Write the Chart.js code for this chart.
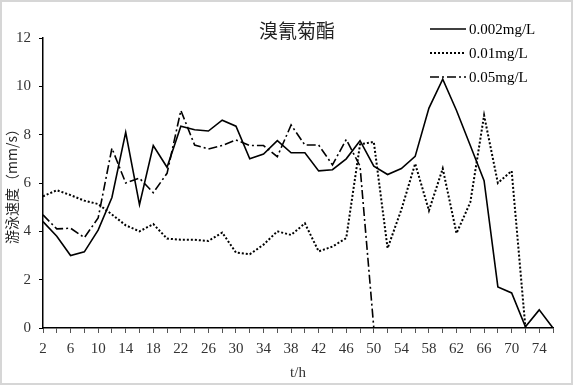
<!DOCTYPE html>
<html>
<head>
<meta charset="utf-8">
<script src="https://cdn.jsdelivr.net/npm/chart.js@4/dist/chart.umd.min.js"></script>
<style>
  html, body { margin: 0; padding: 0; background: #fff; }
  canvas { display: block; }
</style>
</head>
<body>
<canvas id="chart" width="573" height="385"></canvas>
<script>
// hours (t/h), one point every 2 h
const hours = [2, 4, 6, 8, 10, 12, 14, 16, 18, 20, 22, 24, 26, 28, 30, 32, 34, 36, 38,
  40, 42, 44, 46, 48, 50, 52, 54, 56, 58, 60, 62, 64, 66, 68, 70, 72, 74, 76];

// swimming speed (mm/s)
const conc002 = [4.4, 3.8, 3.0, 3.15, 4.05, 5.4, 8.1, 5.1, 7.55, 6.65, 8.35, 8.2, 8.15, 8.6, 8.35, 7.0, 7.2, 7.75, 7.25,
  7.25, 6.5, 6.55, 7.0, 7.75, 6.7, 6.35, 6.6, 7.1, 9.1, 10.3, 9.0, 7.55, 6.1, 1.7, 1.45, 0.05, 0.75, 0];
const conc001 = [5.45, 5.7, 5.5, 5.27, 5.13, 4.7, 4.25, 4.0, 4.3, 3.7, 3.65, 3.65, 3.6, 3.95, 3.12, 3.05, 3.45, 4.0, 3.85,
  4.33, 3.17, 3.37, 3.72, 7.6, 7.7, 3.3, 4.9, 6.8, 4.86, 6.6, 3.92, 5.2, 8.8, 6.0, 6.5, 0, 0, 0];
const conc005 = [4.68, 4.1, 4.13, 3.74, 4.55, 7.44, 6.0, 6.2, 5.6, 6.4, 9.0, 7.57, 7.41, 7.55, 7.78, 7.55, 7.55, 7.09, 8.4,
  7.57, 7.57, 6.75, 7.8, 6.7, 0, 0, 0, 0, 0, 0, 0, 0, 0, 0, 0, 0, 0, 0];

const seriesNames = ['0.002mg/L', '0.01mg/L', '0.05mg/L'];
const titleText = '溴氰菊酯';
const yTitle = '游泳速度（mm/s）';
const xTitle = 't/h';

const SERIF = '"Liberation Serif", "Times New Roman", serif';
const CJK = '"Noto Sans CJK SC", "Noto Sans", sans-serif';

const dashes = [[], [2, 2], [9, 3, 2, 3]];
const widths = [1.6, 2, 1.6];

// frame, title and legend drawn by hand so the plot area stays put
const decor = {
  id: 'decor',
  beforeDraw(chart) {
    const ctx = chart.ctx;
    ctx.save();
    ctx.fillStyle = '#fff';
    ctx.fillRect(0, 0, chart.width, chart.height);
    ctx.strokeStyle = '#d6d6d6';
    ctx.lineWidth = 2;
    ctx.strokeRect(1, 1, chart.width - 2, chart.height - 2);
    ctx.restore();
  },
  afterDraw(chart) {
    const ctx = chart.ctx;
    ctx.save();
    ctx.fillStyle = '#222';
    ctx.font = '19px ' + CJK;
    ctx.textAlign = 'center';
    ctx.textBaseline = 'middle';
    ctx.fillText(titleText, 297, 31);

    ctx.font = '15px ' + SERIF;
    ctx.textAlign = 'left';
    seriesNames.forEach((name, i) => {
      const y = 29 + i * 24;
      ctx.strokeStyle = '#000';
      ctx.lineWidth = widths[i];
      ctx.setLineDash(dashes[i]);
      ctx.beginPath();
      ctx.moveTo(430, y);
      ctx.lineTo(466, y);
      ctx.stroke();
      ctx.setLineDash([]);
      ctx.fillStyle = '#000';
      ctx.fillText(name, 469, y + 1);
    });
    ctx.restore();
  }
};

const mk = (i, data) => ({
  label: seriesNames[i],
  data,
  borderColor: '#000',
  borderWidth: widths[i],
  borderDash: dashes[i],
  pointRadius: 0,
  tension: 0,
  fill: false
});

new Chart(document.getElementById('chart'), {
  type: 'line',
  data: {
    labels: hours.map(String),
    datasets: [mk(0, conc002), mk(1, conc001), mk(2, conc005)]
  },
  options: {
    responsive: false,
    animation: false,
    devicePixelRatio: 1,
    layout: { padding: { left: 0, right: 20, top: 38, bottom: 0 } },
    plugins: { legend: { display: false }, title: { display: false }, tooltip: { enabled: false } },
    scales: {
      x: {
        type: 'category',
        offset: false,
        border: { color: '#000', width: 1.5 },
        grid: { drawOnChartArea: false, color: '#555', tickLength: 5, tickWidth: 1 },
        ticks: {
          autoSkip: false,
          maxRotation: 0,
          padding: 7,
          color: '#333',
          font: { family: SERIF, size: 15 },
          callback: (v, i) => (i % 2 === 0 ? hours[i] : '')
        },
        title: { display: true, text: xTitle, color: '#333', font: { family: SERIF, size: 15 }, padding: { top: 2, bottom: 3 } },
        afterFit: (s) => { s.height = 57; }
      },
      y: {
        min: 0,
        max: 12,
        border: { color: '#000', width: 1.5 },
        grid: { drawOnChartArea: false, color: '#000', tickLength: 4 },
        ticks: { stepSize: 2, padding: 8, color: '#333', font: { family: SERIF, size: 15 } },
        title: { display: true, text: yTitle, color: '#222', font: { family: CJK, size: 14 }, padding: { top: 3, bottom: 0 } },
        afterFit: (s) => { s.width = 43; }
      }
    }
  },
  plugins: [decor]
});
</script>
</body>
</html>
